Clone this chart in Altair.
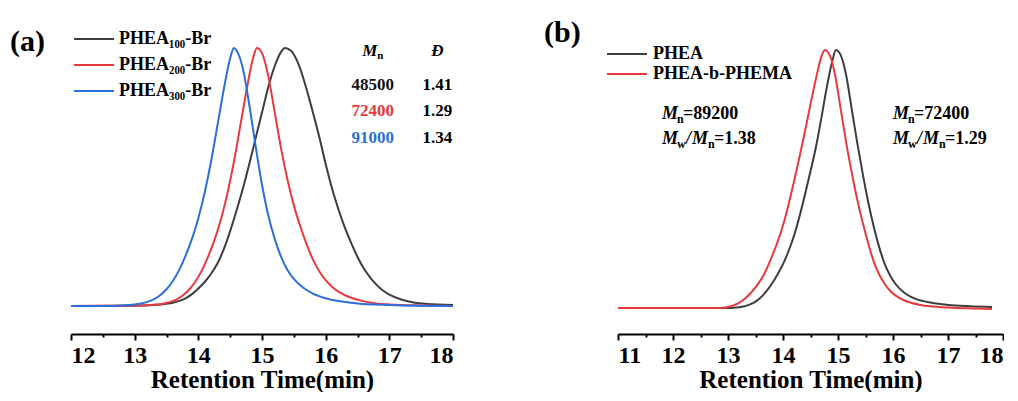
import altair as alt
import pandas as pd

SERIF = "Liberation Serif"

# ---------------- Panel (a) data ----------------
a_names = ["PHEA₁₀₀-Br", "PHEA₂₀₀-Br", "PHEA₃₀₀-Br"]
a_colors = ["#3d3d3d", "#e8393d", "#2a6fdb"]
a_text_colors = ["#111111", "#e8393d", "#2a6fdb"]

a100_t = [12.0, 13.0, 13.3, 13.5, 13.6, 13.7, 13.8, 13.9, 14.0, 14.1, 14.2, 14.3, 14.4, 14.5, 14.6,
          14.7, 14.8, 14.9, 15.0, 15.1, 15.2, 15.3, 15.36, 15.45, 15.5, 15.6, 15.7, 15.8, 15.9, 16.0,
          16.1, 16.2, 16.3, 16.4, 16.5, 16.6, 16.7, 16.8, 16.9, 17.0, 17.2, 17.4, 17.6, 18.0]
a100_v = [0.0, 0.001, 0.004, 0.009, 0.013, 0.02, 0.03, 0.046, 0.068, 0.093, 0.125, 0.165, 0.22, 0.29, 0.37,
          0.455, 0.55, 0.65, 0.75, 0.85, 0.93, 0.985, 1.0, 0.99, 0.975, 0.92, 0.84, 0.75, 0.655, 0.55,
          0.455, 0.375, 0.305, 0.245, 0.19, 0.145, 0.11, 0.082, 0.06, 0.044, 0.024, 0.013, 0.008, 0.004]

a200_t = [12.0, 13.0, 13.36, 13.46, 13.56, 13.66, 13.76, 13.86, 13.96, 14.06, 14.16, 14.26, 14.36, 14.46,
          14.56, 14.66, 14.76, 14.86, 14.92, 15.0, 15.1, 15.2, 15.3, 15.4, 15.5, 15.6, 15.7, 15.8, 15.9,
          16.0, 16.1, 16.2, 16.4, 16.6, 16.8, 17.0, 17.5, 18.0]
a200_v = [0.0, 0.002, 0.006, 0.01, 0.016, 0.026, 0.042, 0.065, 0.097, 0.14, 0.195, 0.26, 0.34, 0.44,
          0.56, 0.70, 0.84, 0.96, 1.0, 0.98, 0.89, 0.75, 0.61, 0.49, 0.39, 0.31, 0.24, 0.18, 0.135,
          0.10, 0.075, 0.056, 0.032, 0.018, 0.01, 0.006, 0.002, 0.0]

a300_t = [12.0, 12.5, 12.8, 13.0, 13.1, 13.2, 13.3, 13.4, 13.5, 13.6, 13.7, 13.8, 13.9, 14.0, 14.1, 14.2,
          14.3, 14.4, 14.5, 14.56, 14.6, 14.7, 14.8, 14.9, 15.0, 15.1, 15.2, 15.3, 15.4, 15.5, 15.6, 15.7,
          15.8, 16.0, 16.2, 16.5, 17.0, 17.5, 18.0]
a300_v = [0.0, 0.0, 0.002, 0.006, 0.01, 0.016, 0.026, 0.042, 0.065, 0.097, 0.14, 0.195, 0.26, 0.34, 0.44, 0.56,
          0.70, 0.84, 0.96, 1.0, 0.99, 0.92, 0.78, 0.62, 0.47, 0.35, 0.26, 0.19, 0.14, 0.105, 0.08, 0.062,
          0.048, 0.03, 0.019, 0.01, 0.004, 0.001, 0.0]

a_mn = ["48500", "72400", "91000"]
a_disp = ["1.41", "1.29", "1.34"]
a_ticks = [12, 12.5, 13, 13.5, 14, 14.5, 15, 15.5, 16, 16.5, 17, 17.5, 18]

# ---------------- Panel (b) data ----------------
b_names = ["PHEA", "PHEA-b-PHEMA"]
b_colors = ["#3d3d3d", "#e8393d"]

b1_t = [11.0, 13.0, 13.1, 13.2, 13.3, 13.4, 13.5, 13.6, 13.7, 13.8, 13.9, 14.0, 14.1, 14.2, 14.3, 14.4,
        14.5, 14.6, 14.7, 14.8, 14.9, 14.96, 15.05, 15.15, 15.25, 15.35, 15.45, 15.55, 15.65, 15.75,
        15.85, 15.95, 16.05, 16.2, 16.4, 16.7, 17.0, 17.4, 17.8]
b1_v = [0.0, 0.0, 0.001, 0.003, 0.007, 0.014, 0.025, 0.042, 0.065, 0.095, 0.13, 0.17, 0.22, 0.28, 0.355, 0.44,
        0.53, 0.625, 0.74, 0.86, 0.96, 1.0, 0.98, 0.90, 0.77, 0.64, 0.52, 0.41, 0.315, 0.235,
        0.17, 0.125, 0.092, 0.06, 0.036, 0.02, 0.012, 0.007, 0.004]

b2_t = [11.0, 12.8, 12.9, 13.0, 13.1, 13.2, 13.3, 13.4, 13.5, 13.6, 13.7, 13.8, 13.9, 14.0, 14.1, 14.2,
        14.3, 14.4, 14.5, 14.6, 14.7, 14.76, 14.85, 14.95, 15.05, 15.15, 15.25, 15.35, 15.45, 15.55,
        15.65, 15.75, 15.85, 15.95, 16.05, 16.2, 16.5, 17.0, 17.5, 17.8]
b2_v = [0.0, 0.0, 0.001, 0.004, 0.01, 0.02, 0.035, 0.055, 0.08, 0.11, 0.15, 0.20, 0.255, 0.32, 0.40, 0.49,
        0.585, 0.685, 0.79, 0.89, 0.975, 1.0, 0.98, 0.90, 0.77, 0.64, 0.525, 0.42, 0.33, 0.25,
        0.18, 0.13, 0.093, 0.066, 0.048, 0.03, 0.012, 0.002, -0.002, -0.004]

b_ticks = [11, 11.5, 12, 12.5, 13, 13.5, 14, 14.5, 15, 15.5, 16, 16.5, 17, 17.5, 18]


def long_df(names, ts, vs):
    rows = []
    for name, t, v in zip(names, ts, vs):
        for ti, vi in zip(t, v):
            rows.append({"series": name, "t": ti, "v": vi})
    return pd.DataFrame(rows)


df_a = long_df(a_names, [a100_t, a200_t, a300_t], [a100_v, a200_v, a300_v])
df_b = long_df(b_names, [b1_t, b2_t], [b1_v, b2_v])

IS_MAJOR = "datum.value % 1 === 0"


def make_axis(ticks):
    return alt.Axis(
        values=ticks,
        labelExpr="datum.value % 1 === 0 ? format(datum.value, 'd') : ''",
        labelOverlap=False,
        tickWidth=2, tickColor="black",
        tickSize={"condition": {"test": IS_MAJOR, "value": 6}, "value": 3},
        domainColor="black", domainWidth=2,
        grid=False,
        labelFont=SERIF, labelFontSize=24, labelFontWeight="bold", labelColor="black",
        labelPadding=3,
        title="Retention Time(min)",
        titleFont=SERIF, titleFontSize=25, titleFontWeight="bold", titleColor="black",
        titlePadding=0,
    )


def legend(x, y, row_pad, offset):
    return alt.Legend(
        orient="none", legendX=x, legendY=y, title=None, padding=0,
        symbolType="M-5,0H5", symbolSize=64, symbolStrokeWidth=2,
        labelFont=SERIF, labelFontSize=18, labelFontWeight="bold", labelColor="black",
        labelOffset=offset, rowPadding=row_pad,
    )


def text_layer(x_enc, y_enc, t, v, txt, size=17, italic=False, align="left", dx=0, dy=0, color="black"):
    d = pd.DataFrame({"t": [t], "v": [v], "txt": [txt]})
    kw = dict(font=SERIF, fontSize=size, fontWeight="bold", align=align, baseline="middle",
              dx=dx, dy=dy, color=color)
    if italic:
        kw["fontStyle"] = "italic"
    return alt.Chart(d).mark_text(**kw).encode(x=x_enc, y=y_enc, text="txt:N")


def panel_label(txt, px, py):
    d = pd.DataFrame({"txt": [txt]})
    return alt.Chart(d).mark_text(font=SERIF, fontSize=30, fontWeight="bold", align="left",
                                  baseline="middle", color="black").encode(
        x=alt.value(px), y=alt.value(py), text="txt:N")


# ---------------- Build panel (a) ----------------
xa = alt.X("t:Q", scale=alt.Scale(domain=[12, 18], nice=False, zero=False), axis=make_axis(a_ticks))
ya = alt.Y("v:Q", scale=alt.Scale(domain=[-0.1085, 1.027], nice=False, zero=False), axis=None)

lines_a = alt.Chart(df_a).mark_line(strokeWidth=2, interpolate="monotone").encode(
    x=xa, y=ya,
    color=alt.Color("series:N", scale=alt.Scale(domain=a_names, range=a_colors),
                    legend=legend(14, -11, 8, 16)),
)

col_mn_t, col_d_t = 16.74, 17.755
row_v = [0.857, 0.756, 0.652]
layers_a = [lines_a,
            text_layer(xa, ya, 16.575, 0.99, "M", italic=True),
            text_layer(xa, ya, 16.575, 0.99, "n", size=11, dx=15, dy=5),
            text_layer(xa, ya, col_d_t, 0.99, "Đ", italic=True, align="center")]
for i in range(3):
    layers_a.append(text_layer(xa, ya, col_mn_t, row_v[i], a_mn[i], align="center", color=a_text_colors[i]))
    layers_a.append(text_layer(xa, ya, col_d_t, row_v[i], a_disp[i], align="center"))
layers_a.append(panel_label("(a)", -61, 1))

chart_a = alt.layer(*layers_a).properties(width=382, height=293)

# ---------------- Build panel (b) ----------------
xb = alt.X("t:Q", scale=alt.Scale(domain=[11, 18], nice=False, zero=False), axis=make_axis(b_ticks))
yb = alt.Y("v:Q", scale=alt.Scale(domain=[-0.1008, 1.0349], nice=False, zero=False), axis=None)

lines_b = alt.Chart(df_b).mark_line(strokeWidth=2, interpolate="monotone").encode(
    x=xb, y=yb,
    color=alt.Color("series:N", scale=alt.Scale(domain=b_names, range=b_colors),
                    legend=legend(0, 4, 2, 17)),
)


def formula(t, v, value, ratio):
    out = [text_layer(xb, yb, t, v, "M", size=18, italic=True)]
    if not ratio:
        out.append(text_layer(xb, yb, t, v, "n", size=12, dx=15, dy=5))
        out.append(text_layer(xb, yb, t, v, "=" + value, size=18, dx=21))
    else:
        out.append(text_layer(xb, yb, t, v, "w", size=12, dx=15, dy=5))
        out.append(text_layer(xb, yb, t, v, "/", size=18, italic=True, dx=24))
        out.append(text_layer(xb, yb, t, v, "M", size=18, italic=True, dx=30))
        out.append(text_layer(xb, yb, t, v, "n", size=12, dx=46, dy=5))
        out.append(text_layer(xb, yb, t, v, "=" + value, size=18, dx=52))
    return out


b_ann_t = [11.8, 16.0]
b_ann_v = [0.752, 0.655]
b_mn = ["89200", "72400"]
b_pdi = ["1.38", "1.29"]

layers_b = [lines_b]
for i in range(2):
    layers_b += formula(b_ann_t[i], b_ann_v[0], b_mn[i], False)
    layers_b += formula(b_ann_t[i], b_ann_v[1], b_pdi[i], True)
layers_b.append(panel_label("(b)", -74, -8))

chart_b = alt.layer(*layers_b).properties(width=385, height=293)

chart = alt.hconcat(chart_a, chart_b, spacing=165, bounds="flush").resolve_scale(
    x="independent", y="independent", color="independent"
).properties(
    padding={"left": 2, "top": 10, "right": 0, "bottom": 0},
    background="white",
).configure_view(stroke=None)

chart.save("out.html", embed_options={"renderer": "svg", "actions": False})
